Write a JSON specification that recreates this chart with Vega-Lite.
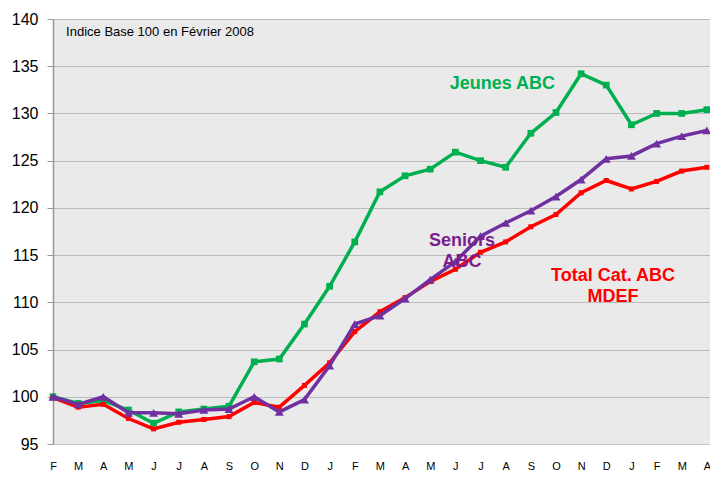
{
  "$schema": "https://vega.github.io/schema/vega-lite/v6.json",
  "autosize": "none",
  "width": 679,
  "height": 425,
  "padding": {"left": 53, "top": 19, "right": 0, "bottom": 33},
  "background": "white",
  "config": {
    "view": {"fill": "#EAEAEA", "stroke": null},
    "font": "Liberation Sans"
  },
  "datasets": {
    "series": [
      {"i":0,"s":"Jeunes","v":100.0},{"i":1,"s":"Jeunes","v":99.3},{"i":2,"s":"Jeunes","v":99.6},{"i":3,"s":"Jeunes","v":98.6},{"i":4,"s":"Jeunes","v":97.2},{"i":5,"s":"Jeunes","v":98.4},{"i":6,"s":"Jeunes","v":98.7},{"i":7,"s":"Jeunes","v":99.0},{"i":8,"s":"Jeunes","v":103.7},{"i":9,"s":"Jeunes","v":104.0},{"i":10,"s":"Jeunes","v":107.7},{"i":11,"s":"Jeunes","v":111.7},{"i":12,"s":"Jeunes","v":116.4},{"i":13,"s":"Jeunes","v":121.7},{"i":14,"s":"Jeunes","v":123.4},{"i":15,"s":"Jeunes","v":124.1},{"i":16,"s":"Jeunes","v":125.9},{"i":17,"s":"Jeunes","v":125.0},{"i":18,"s":"Jeunes","v":124.3},{"i":19,"s":"Jeunes","v":127.9},{"i":20,"s":"Jeunes","v":130.1},{"i":21,"s":"Jeunes","v":134.2},{"i":22,"s":"Jeunes","v":133.0},{"i":23,"s":"Jeunes","v":128.8},{"i":24,"s":"Jeunes","v":130.0},{"i":25,"s":"Jeunes","v":130.0},{"i":26,"s":"Jeunes","v":130.4},
      {"i":0,"s":"Total","v":99.9},{"i":1,"s":"Total","v":98.9},{"i":2,"s":"Total","v":99.2},{"i":3,"s":"Total","v":97.7},{"i":4,"s":"Total","v":96.6},{"i":5,"s":"Total","v":97.3},{"i":6,"s":"Total","v":97.6},{"i":7,"s":"Total","v":97.9},{"i":8,"s":"Total","v":99.4},{"i":9,"s":"Total","v":98.9},{"i":10,"s":"Total","v":101.2},{"i":11,"s":"Total","v":103.6},{"i":12,"s":"Total","v":106.9},{"i":13,"s":"Total","v":109.0},{"i":14,"s":"Total","v":110.5},{"i":15,"s":"Total","v":112.2},{"i":16,"s":"Total","v":113.5},{"i":17,"s":"Total","v":115.3},{"i":18,"s":"Total","v":116.4},{"i":19,"s":"Total","v":118.0},{"i":20,"s":"Total","v":119.3},{"i":21,"s":"Total","v":121.6},{"i":22,"s":"Total","v":122.9},{"i":23,"s":"Total","v":122.0},{"i":24,"s":"Total","v":122.8},{"i":25,"s":"Total","v":123.9},{"i":26,"s":"Total","v":124.3},
      {"i":0,"s":"Seniors","v":100.0},{"i":1,"s":"Seniors","v":99.2},{"i":2,"s":"Seniors","v":100.0},{"i":3,"s":"Seniors","v":98.3},{"i":4,"s":"Seniors","v":98.3},{"i":5,"s":"Seniors","v":98.2},{"i":6,"s":"Seniors","v":98.6},{"i":7,"s":"Seniors","v":98.7},{"i":8,"s":"Seniors","v":100.0},{"i":9,"s":"Seniors","v":98.4},{"i":10,"s":"Seniors","v":99.7},{"i":11,"s":"Seniors","v":103.3},{"i":12,"s":"Seniors","v":107.7},{"i":13,"s":"Seniors","v":108.6},{"i":14,"s":"Seniors","v":110.4},{"i":15,"s":"Seniors","v":112.4},{"i":16,"s":"Seniors","v":114.3},{"i":17,"s":"Seniors","v":117.0},{"i":18,"s":"Seniors","v":118.4},{"i":19,"s":"Seniors","v":119.7},{"i":20,"s":"Seniors","v":121.2},{"i":21,"s":"Seniors","v":123.0},{"i":22,"s":"Seniors","v":125.2},{"i":23,"s":"Seniors","v":125.5},{"i":24,"s":"Seniors","v":126.8},{"i":25,"s":"Seniors","v":127.6},{"i":26,"s":"Seniors","v":128.2}
    ],
    "labels": [
      {"k":"note","i":0.52,"v":138.62,"t":"Indice Base 100 en Février 2008"},
      {"k":"Jeunes","i":17.87,"v":133.07,"t":"Jeunes ABC"},
      {"k":"Seniors","i":16.26,"v":116.45,"t":["Seniors","ABC"]},
      {"k":"Total","i":22.27,"v":112.82,"t":["Total Cat. ABC","MDEF"]}
    ]
  },
  "encoding": {
    "x": {
      "field": "i", "type": "quantitative",
      "scale": {"domain": [0, 27], "nice": false, "zero": false},
      "axis": {
        "title": null, "domain": false, "ticks": false, "tickSize": 0, "grid": false,
        "values": [0,1,2,3,4,5,6,7,8,9,10,11,12,13,14,15,16,17,18,19,20,21,22,23,24,25,26],
        "labelExpr": "datum.value == 11 ? ['J','09'] : datum.value == 23 ? ['J','10'] : substring('FMAMJJASONDJ', datum.value % 12, datum.value % 12 + 1)",
        "labelFont": "Liberation Sans", "labelFontSize": 11, "labelColor": "#000000",
        "labelPadding": 16, "labelLineHeight": 15, "labelFlush": false, "labelOverlap": false
      }
    },
    "y": {
      "field": "v", "type": "quantitative",
      "scale": {"domain": [95, 140], "nice": false, "zero": false},
      "axis": {
        "title": null,
        "values": [95,100,105,110,115,120,125,130,135,140],
        "domain": true, "domainColor": "#999999", "domainWidth": 1.5,
        "ticks": true, "tickColor": "#999999", "tickSize": 6, "tickWidth": 1,
        "grid": true, "gridColor": "#8C8C8C", "gridDash": [1, 1], "gridWidth": 1,
        "labelFont": "Liberation Sans", "labelFontSize": 16, "labelColor": "#000000",
        "labelPadding": 9
      }
    }
  },
  "layer": [
    {
      "data": {"name": "series"},
      "transform": [{"filter": "datum.s == 'Jeunes'"}],
      "mark": {"type": "line", "color": "#00B050", "strokeWidth": 3.5}
    },
    {
      "data": {"name": "series"},
      "transform": [{"filter": "datum.s == 'Jeunes'"}],
      "mark": {"type": "point", "shape": "square", "filled": true, "color": "#00B050", "size": 45, "opacity": 1}
    },
    {
      "data": {"name": "series"},
      "transform": [{"filter": "datum.s == 'Total'"}],
      "mark": {"type": "line", "color": "#FF0000", "strokeWidth": 3.5}
    },
    {
      "data": {"name": "series"},
      "transform": [{"filter": "datum.s == 'Total'"}],
      "mark": {"type": "point", "shape": "square", "filled": true, "color": "#FF0000", "size": 25, "opacity": 1}
    },
    {
      "data": {"name": "series"},
      "transform": [{"filter": "datum.s == 'Seniors'"}],
      "mark": {"type": "line", "color": "#7030A0", "strokeWidth": 3.5}
    },
    {
      "data": {"name": "series"},
      "transform": [{"filter": "datum.s == 'Seniors'"}],
      "mark": {"type": "point", "shape": "triangle-up", "filled": true, "color": "#7030A0", "size": 80, "opacity": 1}
    },
    {
      "data": {"name": "labels"},
      "transform": [{"filter": "datum.k == 'note'"}],
      "mark": {"type": "text", "align": "left", "baseline": "middle", "fontSize": 13, "color": "#000000", "font": "Liberation Sans"},
      "encoding": {"text": {"field": "t"}}
    },
    {
      "data": {"name": "labels"},
      "transform": [{"filter": "datum.k == 'Jeunes'"}],
      "mark": {"type": "text", "align": "center", "baseline": "middle", "fontSize": 18, "fontWeight": "bold", "color": "#00B050", "font": "Liberation Sans"},
      "encoding": {"text": {"field": "t"}}
    },
    {
      "data": {"name": "labels"},
      "transform": [{"filter": "datum.k == 'Seniors'"}],
      "mark": {"type": "text", "align": "center", "baseline": "middle", "fontSize": 18, "fontWeight": "bold", "color": "#7A1E8C", "font": "Liberation Sans", "lineHeight": 20.5},
      "encoding": {"text": {"field": "t"}}
    },
    {
      "data": {"name": "labels"},
      "transform": [{"filter": "datum.k == 'Total'"}],
      "mark": {"type": "text", "align": "center", "baseline": "middle", "fontSize": 18, "fontWeight": "bold", "color": "#FF0000", "font": "Liberation Sans", "lineHeight": 21},
      "encoding": {"text": {"field": "t"}}
    }
  ]
}
